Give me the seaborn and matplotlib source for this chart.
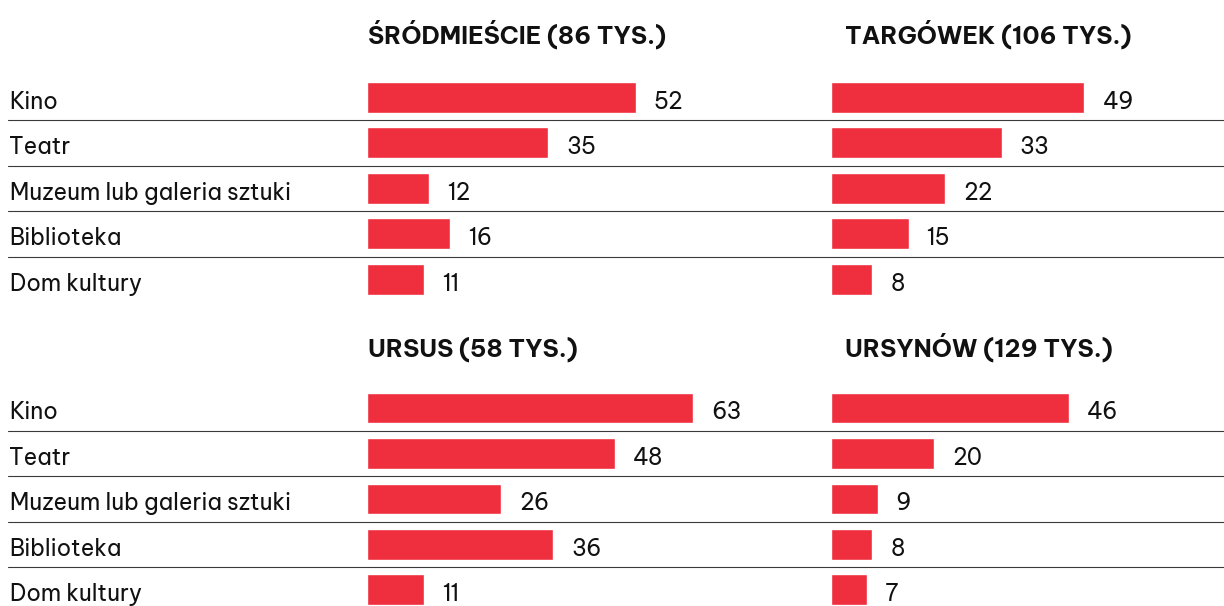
import matplotlib
matplotlib.use("Agg")
import matplotlib.pyplot as plt
import seaborn as sns
import pandas as pd
from matplotlib.transforms import blended_transform_factory

# Data: share of residents (%) visiting cultural institutions, by district
categories = ["Kino", "Teatr", "Muzeum lub galeria sztuki", "Biblioteka", "Dom kultury"]
districts = ["ŚRÓDMIEŚCIE", "TARGÓWEK", "URSUS", "URSYNÓW"]
populations = [86, 106, 58, 129]  # thousands of residents
srodmiescie = [52, 35, 12, 16, 11]
targowek = [49, 33, 22, 15, 8]
ursus = [63, 48, 26, 36, 11]
ursynow = [46, 20, 9, 8, 7]
series = [srodmiescie, targowek, ursus, ursynow]

RED = "#EF2E3E"
INK = "#111111"

sns.set_theme(style="white")
plt.rcParams["font.family"] = ["Be Vietnam Pro", "Inter", "Lato", "DejaVu Sans"]

W, H = 1224, 606
fig = plt.figure(figsize=(W / 100, H / 100), dpi=100)

PX_PER_UNIT = 5.17  # horizontal scale shared by all panels

# panel geometry in pixels: left, top, width, height, lower y-limit, title lift
panels = [
    (367, 74.5, 440, 227.5, 4.5, 1.19),
    (831, 74.5, 393, 227.5, 4.5, 1.19),
    (367, 385.3, 440, 220.7, 4.36, 1.13),
    (831, 385.3, 393, 220.7, 4.36, 1.13),
]
title_dx = [0.5, 10.0, 0.5, 10.0]  # points
BASE = 0.25  # baseline of row texts below the bar centre, in row units

for k, (l, t, w, h, yb, lift) in enumerate(panels):
    ax = fig.add_axes([l / W, 1 - (t + h) / H, w / W, h / H])
    df = pd.DataFrame({"kategoria": categories, "procent": series[k]})
    sns.barplot(data=df, y="kategoria", x="procent", orient="h", color=RED,
                saturation=1, width=0.675, ax=ax)
    ax.set_xlim(0, w / PX_PER_UNIT)
    ax.set_ylim(yb, -0.5)
    ax.axis("off")

    for i, v in enumerate(series[k]):
        ax.annotate(f"{v}", xy=(v, i + BASE), xytext=(13, 0),
                    textcoords="offset points", ha="left", va="baseline",
                    fontsize=16.3, color=INK)

    ax.annotate(f"{districts[k]} ({populations[k]} TYS.)", xy=(0, -lift),
                xytext=(title_dx[k], 0), textcoords="offset points",
                ha="left", va="baseline", fontsize=17.5, fontweight="bold",
                color=INK, annotation_clip=False)

    if k % 2 == 0:
        tr = blended_transform_factory(fig.transFigure, ax.transData)
        for i, c in enumerate(categories):
            ax.text(9.5 / W, i + BASE, c, transform=tr, ha="left",
                    va="baseline", fontsize=16.3, color=INK)
        for i in range(len(categories) - 1):
            ax.plot([8 / W, 1.0], [i + 0.5, i + 0.5], transform=tr,
                    color="#3a3a3a", lw=0.8, clip_on=False, zorder=0)

fig.savefig("out.png", dpi=100, facecolor="white")
